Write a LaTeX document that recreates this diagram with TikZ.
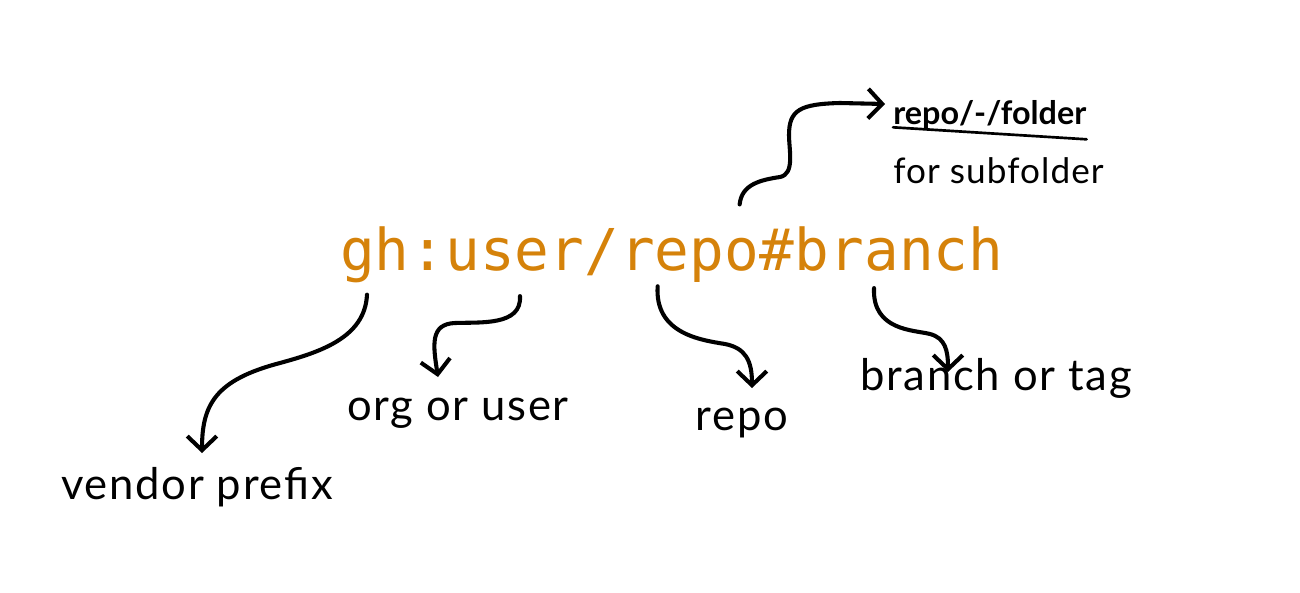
\documentclass[tikz,border=0pt]{standalone}
\usepackage{fontspec}
\usepackage{tikz}
\usetikzlibrary{arrows.meta,calc}
\setmainfont{Lato}
\newfontfamily\codefont{DejaVu Sans Mono}
\definecolor{urlorange}{RGB}{213,130,10}

\begin{document}
\begin{tikzpicture}[x=0.025cm, y=-0.025cm, >={Straight Barb[length=10pt,width=21pt]}, line cap=round]
\tikzstyle{code}=[inner sep=0pt, anchor=base west, text=urlorange, font=\codefont\fontsize{41}{48}\selectfont]
\tikzstyle{lbl}=[inner sep=0pt, anchor=north, font=\addfontfeature{LetterSpace=4}\fontsize{31}{36}\selectfont]
\tikzstyle{hand}=[->, line width=2.9pt]
\useasboundingbox (0,0) rectangle (1300,592);
% the url, one node per part
\node[code] (gh) at (340,270) {gh};
\node[code] (colon) at (gh.base east) {:};
\node[code] (user) at (colon.base east) {user};
\node[code] (slash) at (user.base east) {/};
\node[code] (repo) at (slash.base east) {repo};
\node[code] (hash) at (repo.base east) {\#};
\node[code] (branch) at (hash.base east) {branch};
% labels
\node[lbl] (vendor) at (197,467) {vendor prefix};
\node[lbl] (orguser) at (458,398) {org or user};
\node[lbl] (repolbl) at (742,408) {repo};
\node[lbl] (branchlbl) at (996,358) {branch or tag};
\node[lbl, anchor=north west, font=\bfseries\fontsize{23}{28}\selectfont] (folder) at (893,100) {repo/-/folder};
\node[lbl, anchor=north west, font=\addfontfeature{LetterSpace=3}\fontsize{25}{30}\selectfont] (subfolder) at (893,157) {for subfolder};
\draw[line width=1.9pt] ($(folder.base west)+(0,3)$) -- ($(folder.base east)+(0,15)$);
% arrows
\draw[hand] ($(gh.south)+(-8,12)$) .. controls +(-2,43) and +(40,-11) .. (280,363)
  .. controls +(-65,17) and +(0,-48) .. ($(vendor.north)+(5,-14)$);
\draw[hand] ($(user.south)+(5,25)$) .. controls +(2,30) and +(25,-1) .. (455,323)
  .. controls +(-25,1) and +(-5,-32) .. ($(orguser.north)+(-20,-21)$);
\draw[hand] ($(repo.south)+(-32,4)$) .. controls +(-3,47) and +(-25,-4) .. (725,344)
  .. controls +(20,4) and +(0,-28) .. ($(repolbl.north)+(10,-20)$);
\draw[hand] ($(branch.south)+(-25,17)$) .. controls +(-2,43) and +(-15,-4) .. (930,334)
  .. controls +(15,4) and +(0,-22) .. ($(branchlbl.north)+(-48,14)$);
\draw[hand] ($(repo.north)+(50,-33)$) .. controls +(2,-20) and +(-20,3) .. (780,177)
  .. controls +(15,-3) and +(0,15) .. (789,135)
  .. controls +(0,-25) and +(-40,1) .. (840,103) -- ($(folder.north west)+(-8,4)$);
\end{tikzpicture}
\end{document}
